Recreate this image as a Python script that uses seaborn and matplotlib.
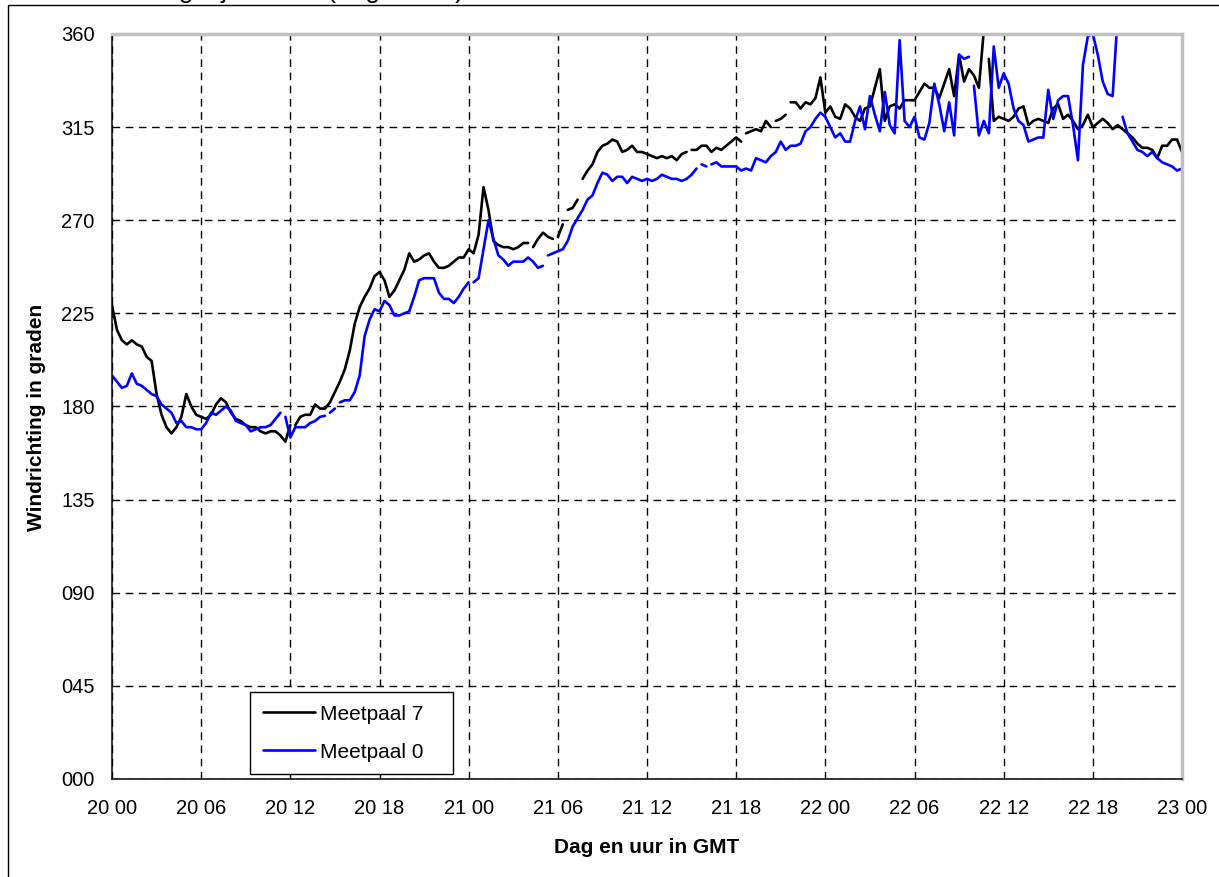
import numpy as np
import pandas as pd
import matplotlib
matplotlib.use("Agg")
import matplotlib.pyplot as plt
from matplotlib.patches import Rectangle
import seaborn as sns

# ===== data: windrichting per 20 minuten, 20 00 t/m 23 00 GMT =====
meetpaal_7 = [
    229, 217, 212, 210, 212, 210, 209, 204, 202, 186, 176, 170,
    167, 170, 175, 186, 180, 176, 175, 174, 176, 181, 184, 182,
    177, 174, 173, 171, 170, 170, 168, 167, 168, 168, 166, 163,
    171, 171, 175, 176, 176, 181, 179, 179, 182, 187, 192, 198,
    207, 220, 228, 233, 237, 243, 245, 241, 233, 236, 241, 246,
    254, 250, 251, 253, 254, 250, 247, 247, 248, 250, 252, 252,
    256, 254, 263, 286, 275, 260, 258, 257, 257, 256, 257, 259,
    259, 257, 261, 264, 262, 261, 262, 268, 275, 276, 280, 290,
    294, 297, 303, 306, 307, 309, 308, 303, 304, 306, 303, 303,
    302, 301, 300, 301, 300, 301, 299, 302, 303, 304, 304, 306,
    306, 303, 305, 304, 306, 308, 310, 308, 312, 313, 314, 313,
    318, 315, 318, 319, 321, 327, 327, 324, 327, 326, 329, 339,
    322, 325, 320, 319, 326, 324, 320, 318, 324, 325, 334, 343,
    318, 325, 326, 324, 328, 328, 328, 332, 336, 334, 334, 329,
    336, 343, 330, 350, 337, 343, 340, 334, 362, 348, 318, 320,
    319, 318, 320, 324, 325, 316, 318, 319, 318, 317, 324, 326,
    319, 321, 318, 314, 316, 321, 315, 317, 319, 317, 314, 316,
    314, 312, 310, 307, 305, 305, 304, 300, 306, 306, 309, 309,
    303,
]
meetpaal_0 = [
    195, 192, 189, 190, 196, 191, 190, 188, 186, 185, 181, 179,
    177, 172, 173, 170, 170, 169, 169, 172, 177, 176, 178, 180,
    178, 173, 172, 171, 168, 169, 170, 170, 171, 174, 177, 175,
    165, 170, 170, 170, 172, 173, 175, 175.5, 177, 179, 182, 183,
    183, 187, 195, 214, 222, 227, 226, 231, 229, 224, 224, 225,
    226, 233, 241, 242, 242, 242, 235, 232, 232, 230, 233, 237,
    240, 240, 242, 256, 270, 261, 253, 251, 248, 250, 250, 250,
    252, 250, 247, 248, 253, 254, 255, 256, 260, 267, 271, 275,
    280, 282, 288, 293, 292, 289, 291, 291, 288, 291, 290, 289,
    290, 289, 290, 292, 291, 290, 290, 289, 290, 292, 295, 297,
    296, 297, 298, 296, 296, 296, 296, 294, 295, 294, 300, 299,
    298, 301, 303, 308, 304, 306, 306, 307, 313, 315, 319, 322,
    320, 315, 310, 312, 308, 308, 318, 325, 314, 330, 321, 313,
    332, 316, 312, 357, 318, 315, 320, 310, 309, 317, 336, 326,
    313, 327, 311, 350, 348, 349, 335, 311, 318, 312, 354, 334,
    341, 336, 324, 318, 316, 308, 309, 310, 310, 333, 319, 328,
    330, 330, 316, 299, 345, 359, 360, 350, 337, 331, 330, 368,
    320, 312, 308, 304, 303, 301, 303, 300, 298, 297, 296, 294,
    295,
]
# meetwaarden ontbreken na deze index (lijn onderbroken)
breuk_7 = [36, 84, 89, 91, 94, 116, 127, 133, 136, 176]
breuk_0 = [34, 43, 45, 72, 87, 118, 120, 173, 203]

uren = np.arange(len(meetpaal_7)) * 20 / 60
x_ticks = list(range(0, 73, 6))
x_labels = ["20 00", "20 06", "20 12", "20 18", "21 00", "21 06", "21 12",
            "21 18", "22 00", "22 06", "22 12", "22 18", "23 00"]
y_ticks = list(range(0, 361, 45))
y_labels = ["000", "045", "090", "135", "180", "225", "270", "315", "360"]

# ===== tabel voor seaborn =====
delen = []
for naam, waarden, breuken in [("Meetpaal 7", meetpaal_7, breuk_7),
                               ("Meetpaal 0", meetpaal_0, breuk_0)]:
    seg = np.zeros(len(waarden), dtype=int)
    for b in breuken:
        seg[b + 1:] += 1
    delen.append(pd.DataFrame({"uur": uren, "graden": waarden,
                               "meetpaal": naam, "segment": seg}))
df = pd.concat(delen, ignore_index=True)

# ===== stijl =====
sns.set_style("white")
plt.rcParams["font.family"] = ["Liberation Sans", "DejaVu Sans"]
plt.rcParams["text.color"] = "black"
plt.rcParams["axes.labelcolor"] = "black"

W, H = 1219, 877
fig = plt.figure(figsize=(W / 100, H / 100), dpi=100)
fig.patch.set_facecolor("white")
ax = fig.add_axes([112 / W, 1 - 779 / H, (1182 - 112) / W, (779 - 34) / H])

sns.lineplot(data=df, x="uur", y="graden", hue="meetpaal",
             hue_order=["Meetpaal 7", "Meetpaal 0"], units="segment",
             estimator=None, sort=False, palette=["black", "#0000ff"],
             linewidth=1.9, ax=ax)

ax.set_xlim(0, 72)
ax.set_ylim(0, 360)
ax.set_xticks(x_ticks)
ax.set_xticklabels(x_labels)
ax.set_yticks(y_ticks)
ax.set_yticklabels(y_labels)

ax.grid(True, color="black", linewidth=1.0, linestyle=(0, (5.5, 4)))
ax.set_axisbelow(True)

for s in ["top", "right"]:
    ax.spines[s].set_color("#c0c0c0")
    ax.spines[s].set_linewidth(2.5)
for s in ["left", "bottom"]:
    ax.spines[s].set_color("black")
    ax.spines[s].set_linewidth(1.1)

ax.tick_params(axis="both", direction="out", length=4.5, width=1,
               color="black", labelsize=14.5, labelcolor="black")
ax.tick_params(axis="x", pad=10)
ax.tick_params(axis="y", pad=8)

ax.set_xlabel("Dag en uur in GMT", fontsize=15, fontweight="bold",
              color="black")
ax.set_ylabel("Windrichting in graden", fontsize=15, fontweight="bold",
              color="black")
ax.xaxis.set_label_coords(0.5, -0.079)
ax.yaxis.set_label_coords(-0.0617, 0.485)

sns.move_legend(ax, "lower left",
                bbox_to_anchor=(250 / W, 1 - 774 / H, (453 - 250) / W, 0.05),
                bbox_transform=fig.transFigure, mode="expand", title=None,
                frameon=True, fancybox=False, edgecolor="black", framealpha=1,
                borderaxespad=0, handlelength=2.5, handletextpad=0.25,
                labelspacing=0.9, borderpad=0.6, fontsize=15)
leg = ax.get_legend()
leg.get_frame().set_linewidth(1.0)
for ln in leg.get_lines():
    ln.set_linewidth(1.9)
for t in leg.get_texts():
    t.set_color("black")

# ===== rand van het grafiekgebied en afgesneden titel =====
fig.add_artist(Rectangle((8 / W, -0.1), 1.2, 1.1 - 5 / H,
                         transform=fig.transFigure, fill=False,
                         edgecolor="black", linewidth=1.0, clip_on=False))
fig.text(48 / W, 1 + 2 / H, "Windrichting bij de kust (dag 20-22)",
         fontsize=19, ha="left", va="baseline", color="black")

fig.savefig("out.png", dpi=100)
